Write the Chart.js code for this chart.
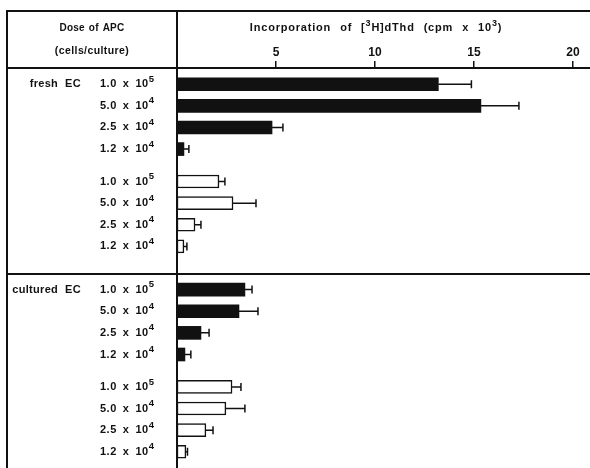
<!DOCTYPE html>
<html><head><meta charset="utf-8">
<script src="https://cdn.jsdelivr.net/npm/chart.js@4/dist/chart.umd.min.js"></script>
<style>html,body{margin:0;padding:0;background:#fff;}canvas{display:block;}</style>
</head><body>
<canvas id="c" width="590" height="468"></canvas>
<script>
// ---- data ----
const groupNames = ['fresh EC', 'cultured EC'];
const doseMantissa = ['1.0', '5.0', '2.5', '1.2'];
const doseExponent = ['5', '4', '4', '4'];
const xTickValues = [5, 10, 15, 20];
const freshBlack = [13.2, 15.35, 4.8, 0.35];
const freshBlackErr = [1.67, 1.92, 0.55, 0.25];
const freshWhite = [2.12, 2.83, 0.91, 0.35];
const freshWhiteErr = [0.3, 1.16, 0.3, 0.15];
const culturedBlack = [3.43, 3.13, 1.21, 0.4];
const culturedBlackErr = [0.36, 0.96, 0.41, 0.3];
const culturedWhite = [2.78, 2.47, 1.46, 0.45];
const culturedWhiteErr = [0.45, 0.96, 0.36, 0.08];

const INK = '#111';
const FONT = '"Liberation Sans", Arial, sans-serif';

const series = [
  {vals: freshBlack, err: freshBlackErr, fill: INK, group: 0},
  {vals: freshWhite, err: freshWhiteErr, fill: '#fff', group: 0},
  {vals: culturedBlack, err: culturedBlackErr, fill: INK, group: 1},
  {vals: culturedWhite, err: culturedWhiteErr, fill: '#fff', group: 1}
];

// build category slots (with blank spacer slots between rows/groups)
let cur = -1;
series.forEach((s, si) => {
  let start;
  if (si === 0) start = 1;
  else start = cur + (s.group !== series[si - 1].group ? 4 : 3);
  s.idx = s.vals.map((v, r) => start + 2 * r);
  cur = s.idx[s.idx.length - 1];
});
const nSlots = cur + 2;
const labels = new Array(nSlots).fill('');
series.forEach(s => s.idx.forEach((k, r) => { labels[k] = doseMantissa[r] + ' x 10^' + doseExponent[r]; }));

const datasets = series.map(s => {
  const d = new Array(nSlots).fill(null);
  s.idx.forEach((k, r) => { d[k] = s.vals[r]; });
  return {
    data: d,
    backgroundColor: s.fill,
    borderColor: INK,
    borderWidth: s.fill === '#fff' ? 1.5 : 0,
    borderSkipped: false
  };
});

function drawRich(ctx, parts, x, y, align, o) {
  const f = s => `bold ${s}px ${FONT}`;
  const toks = [];
  parts.forEach(p => {
    p.t.split(/( )/).forEach(w => { if (w !== '') toks.push({w, sup: !!p.sup}); });
  });
  ctx.letterSpacing = o.ls + 'px';
  let total = 0;
  toks.forEach(tk => {
    if (tk.w === ' ') tk.width = o.sp;
    else { ctx.font = f(tk.sup ? o.supSize : o.size); tk.width = ctx.measureText(tk.w).width; }
    total += tk.width;
  });
  let cx = align === 'center' ? x - total / 2 : align === 'right' ? x - total : x;
  ctx.textBaseline = 'middle'; ctx.textAlign = 'left'; ctx.fillStyle = INK;
  toks.forEach(tk => {
    if (tk.w !== ' ') {
      ctx.font = f(tk.sup ? o.supSize : o.size);
      ctx.fillText(tk.w, cx, tk.sup ? y - o.supRise : y);
    }
    cx += tk.width;
  });
  ctx.letterSpacing = '0px';
}

const tablePlugin = {
  id: 'table',
  afterDatasetsDraw(chart) {
    const ctx = chart.ctx, xs = chart.scales.x;
    ctx.save();
    ctx.strokeStyle = INK; ctx.lineWidth = 1.5;
    series.forEach((s, di) => {
      const meta = chart.getDatasetMeta(di);
      s.idx.forEach((k, r) => {
        const el = meta.data[k];
        const x0 = xs.getPixelForValue(s.vals[r]);
        const x1 = xs.getPixelForValue(s.vals[r] + s.err[r]);
        ctx.beginPath();
        ctx.moveTo(x0, el.y); ctx.lineTo(x1, el.y);
        ctx.moveTo(x1, el.y - 4); ctx.lineTo(x1, el.y + 4);
        ctx.stroke();
      });
    });
    ctx.restore();
  },
  afterDraw(chart) {
    const ctx = chart.ctx, ca = chart.chartArea, ys = chart.scales.y;
    const W = chart.width, H = chart.height;
    const L = 7, T = 11;
    ctx.save();
    ctx.strokeStyle = INK; ctx.lineWidth = 2;
    ctx.beginPath();
    ctx.moveTo(L, T); ctx.lineTo(W, T);
    ctx.moveTo(L, T - 1); ctx.lineTo(L, H);
    ctx.moveTo(ca.left, T); ctx.lineTo(ca.left, H);
    ctx.moveTo(L, ca.top); ctx.lineTo(W, ca.top);
    const lastFresh = series[1].idx[series[1].idx.length - 1];
    const firstCult = series[2].idx[0];
    const yA = ys.getPixelForValue(lastFresh), yB = ys.getPixelForValue(firstCult);
    const yDiv = Math.round(yA + 0.65 * (yB - yA));
    ctx.moveTo(L, yDiv); ctx.lineTo(W, yDiv);
    ctx.stroke();

    const o = {size: 11, supSize: 9.5, supRise: 5, ls: 0.5, sp: 6};
    // header
    const colMid = (L + ca.left) / 2;
    drawRich(ctx, [{t: 'Dose of APC'}], colMid, 28, 'center', {size: 10, supSize: 9, supRise: 4, ls: 0.2, sp: 4});
    drawRich(ctx, [{t: '(cells/culture)'}], colMid, 51, 'center', {size: 10.5, supSize: 9, supRise: 4, ls: 0.4, sp: 4});
    drawRich(ctx, [{t: 'Incorporation of ['}, {t: '3', sup: true}, {t: 'H]dThd (cpm x 10'}, {t: '3', sup: true}, {t: ')'}],
      376, 28, 'center', {size: 11, supSize: 9, supRise: 4, ls: 0.8, sp: 9});
    // row labels
    series.forEach((s, si) => {
      s.idx.forEach((k, r) => {
        const y = ys.getPixelForValue(k);
        drawRich(ctx, [{t: doseMantissa[r] + ' x 10'}, {t: doseExponent[r], sup: true}], 100, y, 'left', o);
        if (r === 0 && (si === 0 || s.group !== series[si - 1].group)) {
          drawRich(ctx, [{t: groupNames[s.group]}], 81, y, 'right', {size: 11, supSize: 9, supRise: 4, ls: 0.3, sp: 7});
        }
      });
    });
    ctx.restore();
  }
};

new Chart(document.getElementById('c'), {
  type: 'bar',
  data: {labels, datasets},
  plugins: [tablePlugin],
  options: {
    responsive: false,
    animation: false,
    indexAxis: 'y',
    layout: {padding: {left: 177, top: 11, right: 0, bottom: 0}},
    plugins: {legend: {display: false}, tooltip: {enabled: false}},
    datasets: {bar: {grouped: false, barThickness: 13, skipNull: true}},
    scales: {
      x: {
        position: 'top', min: 0, max: 20.86,
        afterBuildTicks: s => { s.ticks = xTickValues.map(v => ({value: v})); },
        afterFit: s => { s.height = 57; },
        grid: {drawOnChartArea: false, tickLength: 7, color: INK, lineWidth: 1.5},
        border: {display: true, color: INK, width: 2},
        ticks: {color: INK, padding: 1, maxRotation: 0, font: {family: FONT, size: 12, weight: 'bold'}}
      },
      y: {display: false}
    }
  }
});
</script>
</body></html>
